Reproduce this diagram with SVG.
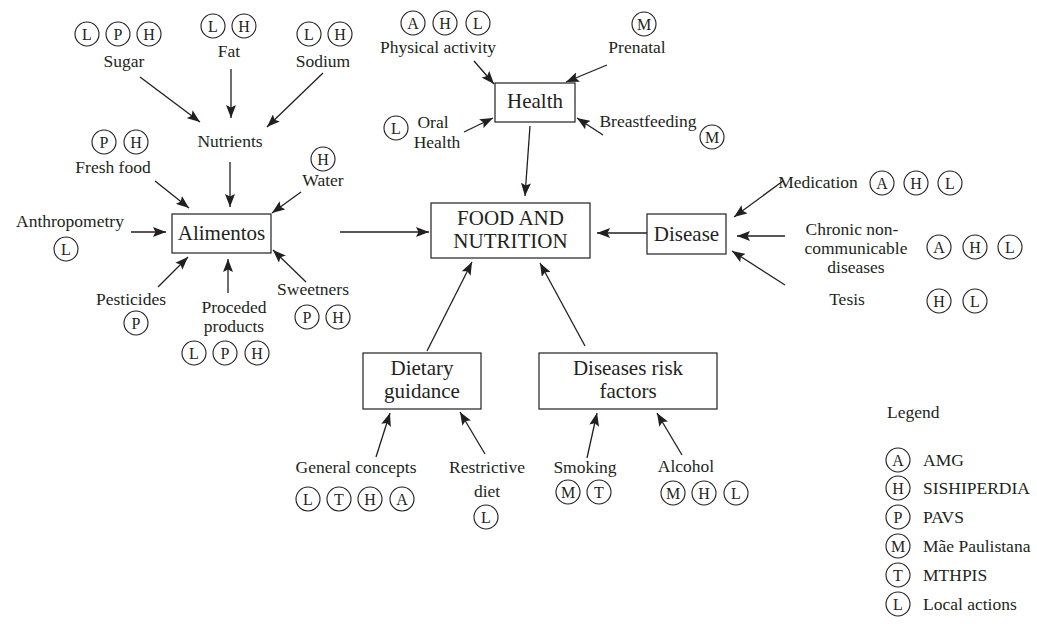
<svg xmlns="http://www.w3.org/2000/svg" width="1037" height="624" viewBox="0 0 1037 624">
<style>
text{font-family:"Liberation Serif","Times New Roman",serif;fill:#231f20;}
.l{font-size:17.5px;text-anchor:middle;}
.b{font-size:21px;text-anchor:middle;}
.c{font-size:16px;text-anchor:middle;}
.lg{font-size:17.5px;}
.bx{fill:#fff;stroke:#231f20;stroke-width:1.2;}
.ci{fill:none;stroke:#231f20;stroke-width:1.1;}
.ar{stroke:#231f20;stroke-width:1.3;fill:none;marker-end:url(#ah);}
</style>
<defs>
<marker id="ah" markerUnits="userSpaceOnUse" markerWidth="14" markerHeight="10" refX="13" refY="5" orient="auto">
<path d="M0,0 L13,5 L0,10 L2.5,5 z" fill="#231f20"/>
</marker>
<g id="cA"><circle class="ci" r="12"/><text class="c" y="5.5">A</text></g>
<g id="cH"><circle class="ci" r="12"/><text class="c" y="5.5">H</text></g>
<g id="cL"><circle class="ci" r="12"/><text class="c" y="5.5">L</text></g>
<g id="cP"><circle class="ci" r="12"/><text class="c" y="5.5">P</text></g>
<g id="cM"><circle class="ci" r="12"/><text class="c" y="5.5">M</text></g>
<g id="cT"><circle class="ci" r="12"/><text class="c" y="5.5">T</text></g>
</defs>
<rect width="1037" height="624" fill="#fff"/>

<g id="connectors">
<line class="ar" x1="140" y1="77" x2="200" y2="122"/>
<line class="ar" x1="231" y1="69" x2="231" y2="118"/>
<line class="ar" x1="323" y1="73" x2="267" y2="127"/>
<line class="ar" x1="230" y1="162" x2="230" y2="207"/>
<line class="ar" x1="155" y1="181" x2="189" y2="208"/>
<line class="ar" x1="301" y1="192" x2="272" y2="213"/>
<line class="ar" x1="131" y1="232" x2="166" y2="232"/>
<line class="ar" x1="158" y1="287" x2="188" y2="257"/>
<line class="ar" x1="228" y1="293" x2="228" y2="259"/>
<line class="ar" x1="306" y1="282" x2="273" y2="250"/>
<line class="ar" x1="340" y1="232" x2="429" y2="232"/>
<line class="ar" x1="530" y1="126" x2="525" y2="196"/>
<line class="ar" x1="474" y1="61" x2="494" y2="84"/>
<line class="ar" x1="607" y1="65" x2="566" y2="82"/>
<line class="ar" x1="464" y1="132" x2="493" y2="118"/>
<line class="ar" x1="603" y1="135" x2="577" y2="118"/>
<line class="ar" x1="647" y1="233" x2="597" y2="233"/>
<line class="ar" x1="783" y1="181" x2="734" y2="217"/>
<line class="ar" x1="785" y1="236" x2="737" y2="236"/>
<line class="ar" x1="785" y1="285" x2="732" y2="251"/>
<line class="ar" x1="427" y1="351" x2="472" y2="262"/>
<line class="ar" x1="585" y1="346" x2="540" y2="263"/>
<line class="ar" x1="376" y1="457" x2="390" y2="413"/>
<line class="ar" x1="485" y1="454" x2="460" y2="412"/>
<line class="ar" x1="587" y1="458" x2="597" y2="413"/>
<line class="ar" x1="682" y1="455" x2="657" y2="413"/>
</g>

<g id="sugar">
<use href="#cL" x="87" y="34"/><use href="#cP" x="118" y="34"/><use href="#cH" x="149" y="34"/>
<text class="l" x="124" y="67">Sugar</text>
</g>
<g id="fat">
<use href="#cL" x="213" y="26"/><use href="#cH" x="244" y="26"/>
<text class="l" x="229" y="57">Fat</text>
</g>
<g id="sodium">
<use href="#cL" x="309" y="34"/><use href="#cH" x="340" y="34"/>
<text class="l" x="323" y="67">Sodium</text>
</g>
<g id="nutrients">
<text class="l" x="230" y="147">Nutrients</text>
</g>
<g id="freshfood">
<use href="#cP" x="104" y="142"/><use href="#cH" x="136" y="142"/>
<text class="l" x="113" y="173">Fresh food</text>
</g>
<g id="water">
<use href="#cH" x="323" y="159"/>
<text class="l" x="323" y="186">Water</text>
</g>
<g id="alimentos">
<rect class="bx" x="172" y="214" width="99" height="39"/>
<text class="b" x="221.5" y="240">Alimentos</text>
</g>
<g id="anthropometry">
<text class="l" x="70" y="227">Anthropometry</text>
<use href="#cL" x="66" y="249"/>
</g>
<g id="pesticides">
<text class="l" x="131" y="305">Pesticides</text>
<use href="#cP" x="136" y="323"/>
</g>
<g id="proceded">
<text class="l" x="234" y="313">Proceded</text>
<text class="l" x="234" y="332">products</text>
<use href="#cL" x="194" y="353"/><use href="#cP" x="225" y="353"/><use href="#cH" x="257" y="353"/>
</g>
<g id="sweetners">
<text class="l" x="313" y="295">Sweetners</text>
<use href="#cP" x="307" y="317"/><use href="#cH" x="338" y="317"/>
</g>

<g id="food">
<rect class="bx" x="431" y="203" width="159" height="55"/>
<text class="b" x="510.5" y="225">FOOD AND</text>
<text class="b" x="510.5" y="248">NUTRITION</text>
</g>

<g id="health">
<rect class="bx" x="495" y="83" width="80" height="39"/>
<text class="b" x="535" y="108">Health</text>
</g>
<g id="physical">
<use href="#cA" x="413" y="23"/><use href="#cH" x="445" y="23"/><use href="#cL" x="478" y="23"/>
<text class="l" x="438" y="53">Physical activity</text>
</g>
<g id="prenatal">
<use href="#cM" x="644" y="24"/>
<text class="l" x="637" y="53">Prenatal</text>
</g>
<g id="oralhealth">
<use href="#cL" x="396" y="128"/>
<text class="l" x="433" y="128">Oral</text>
<text class="l" x="437" y="148">Health</text>
</g>
<g id="breastfeeding">
<text class="l" x="648" y="127">Breastfeeding</text>
<use href="#cM" x="712" y="137"/>
</g>

<g id="disease">
<rect class="bx" x="647" y="214" width="79" height="40"/>
<text class="b" x="686.5" y="241">Disease</text>
</g>
<g id="medication">
<text class="l" x="818" y="188">Medication</text>
<use href="#cA" x="882" y="183"/><use href="#cH" x="916" y="183"/><use href="#cL" x="950" y="183"/>
</g>
<g id="chronic">
<text class="l" x="852" y="235">Chronic non-</text>
<text class="l" x="856" y="254">communicable</text>
<text class="l" x="856" y="273">diseases</text>
<use href="#cA" x="939" y="247"/><use href="#cH" x="975" y="247"/><use href="#cL" x="1010" y="247"/>
</g>
<g id="tesis">
<text class="l" x="847" y="305">Tesis</text>
<use href="#cH" x="939" y="301"/><use href="#cL" x="975" y="301"/>
</g>

<g id="dietary">
<rect class="bx" x="363" y="353" width="118" height="56"/>
<text class="b" x="422" y="375">Dietary</text>
<text class="b" x="422" y="398">guidance</text>
</g>
<g id="riskfactors">
<rect class="bx" x="539" y="353" width="178" height="56"/>
<text class="b" x="628" y="375">Diseases risk</text>
<text class="b" x="628" y="398">factors</text>
</g>
<g id="general">
<text class="l" x="356" y="473">General concepts</text>
<use href="#cL" x="308" y="499"/><use href="#cT" x="339" y="499"/><use href="#cH" x="370" y="499"/><use href="#cA" x="402" y="499"/>
</g>
<g id="restrictive">
<text class="l" x="487" y="473">Restrictive</text>
<text class="l" x="487" y="497">diet</text>
<use href="#cL" x="486" y="517"/>
</g>
<g id="smoking">
<text class="l" x="585" y="473">Smoking</text>
<use href="#cM" x="568" y="492"/><use href="#cT" x="599" y="492"/>
</g>
<g id="alcohol">
<text class="l" x="686" y="472">Alcohol</text>
<use href="#cM" x="673" y="493"/><use href="#cH" x="704" y="493"/><use href="#cL" x="736" y="493"/>
</g>

<g id="legend">
<text class="lg" x="887" y="418">Legend</text>
<use href="#cA" x="898" y="460"/><text class="lg" x="923" y="466">AMG</text>
<use href="#cH" x="898" y="488"/><text class="lg" x="923" y="494">SISHIPERDIA</text>
<use href="#cP" x="898" y="517"/><text class="lg" x="923" y="523">PAVS</text>
<use href="#cM" x="898" y="546"/><text class="lg" x="923" y="552">Mãe Paulistana</text>
<use href="#cT" x="898" y="575"/><text class="lg" x="923" y="581">MTHPIS</text>
<use href="#cL" x="898" y="604"/><text class="lg" x="923" y="610">Local actions</text>
</g>
</svg>
